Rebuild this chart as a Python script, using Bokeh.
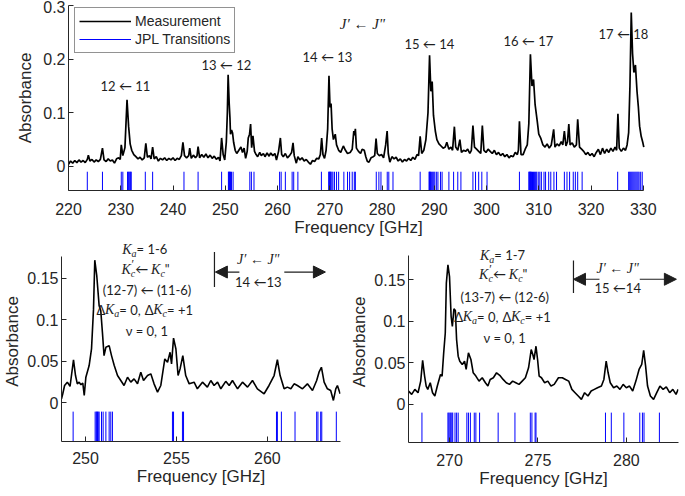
from bokeh.plotting import figure
from bokeh.layouts import column, row
from bokeh.models import Label, Arrow, NormalHead, FixedTicker, Legend, LegendItem, NumeralTickFormatter, Range1d
from bokeh.embed import file_html
from bokeh.resources import INLINE
from bokeh.core.properties import value

# ---------------- data ----------------
TOP_FREQ = [220.0, 220.4, 220.8, 221.2, 221.6, 222.0, 222.4, 222.8, 223.2, 223.6, 223.8, 224.1, 224.5, 224.9, 225.3,
            225.7, 226.1, 226.5, 226.8, 227.2, 227.6, 228.0, 228.4, 228.8, 229.2, 229.6, 229.9, 230.1, 230.4, 230.8,
            231.2, 231.5, 231.8, 232.1, 232.5, 232.9, 233.3, 233.7, 234.1, 234.5, 234.8, 235.1, 235.5, 235.8, 236.1,
            236.4, 236.8, 237.2, 237.6, 238.0, 238.4, 238.8, 239.2, 239.6, 240.0, 240.4, 240.8, 241.2, 241.6, 241.9,
            242.2, 242.6, 243.0, 243.2, 243.5, 243.9, 244.3, 244.6, 244.8, 245.1, 245.5, 245.9, 246.3, 246.7, 247.1,
            247.5, 247.9, 248.3, 248.7, 249.0, 249.3, 249.6, 249.9, 250.2, 250.4, 250.55, 250.75, 250.9, 251.0, 251.2,
            251.4, 251.6, 251.9, 252.2, 252.6, 253.0, 253.3, 253.6, 253.9, 254.2, 254.4, 254.65, 254.85, 255.05, 255.3,
            255.6, 255.9, 256.2, 256.6, 256.9, 257.3, 257.6, 258.0, 258.4, 258.7, 259.1, 259.5, 259.8, 260.2, 260.55,
            260.8, 261.1, 261.5, 261.9, 262.3, 262.7, 262.97, 263.2, 263.6, 263.9, 264.3, 264.7, 265.1, 265.5, 265.9,
            266.3, 266.7, 267.1, 267.5, 267.9, 268.2, 268.45, 268.7, 269.0, 269.3, 269.6, 269.85, 270.05, 270.25, 270.45,
            270.7, 271.05, 271.3, 271.7, 272.1, 272.6, 273.0, 273.4, 273.9, 274.3, 274.6, 274.75, 274.9, 275.1, 275.5,
            275.9, 276.2, 276.6, 276.9, 277.2, 277.5, 277.9, 278.3, 278.6, 278.86, 279.1, 279.5, 279.9, 280.3, 280.7,
            280.98, 281.2, 281.5, 281.9, 282.3, 282.7, 283.1, 283.5, 283.9, 284.3, 284.7, 285.1, 285.5, 285.9, 286.3,
            286.7, 287.0, 287.3, 287.6, 288.0, 288.4, 288.8, 289.1, 289.35, 289.6, 289.85, 290.2, 290.5, 290.9, 291.3,
            291.7, 292.1, 292.4, 292.8, 293.2, 293.5, 293.85, 294.1, 294.5, 294.9, 295.2, 295.6, 296.0, 296.4, 296.8,
            297.1, 297.4, 297.7, 298.1, 298.5, 298.9, 299.2, 299.5, 299.9, 300.3, 300.7, 301.1, 301.5, 301.9, 302.3,
            302.7, 303.1, 303.5, 303.9, 304.3, 304.7, 305.1, 305.5, 305.9, 306.1, 306.3, 306.6, 307.0, 307.4, 307.8,
            308.1, 308.4, 308.7, 309.0, 309.3, 309.7, 310.0, 310.4, 310.8, 311.2, 311.6, 312.0, 312.4, 312.85, 313.1,
            313.5, 313.9, 314.3, 314.6, 314.9, 315.2, 315.5, 315.75, 316.0, 316.4, 316.8, 317.2, 317.45, 317.8, 318.2,
            318.6, 319.0, 319.4, 319.8, 320.2, 320.6, 321.0, 321.4, 321.8, 322.2, 322.6, 323.0, 323.4, 323.8, 324.2,
            324.6, 324.9, 325.15, 325.4, 325.8, 326.2, 326.6, 326.9, 327.2, 327.45, 327.7, 327.95, 328.2, 328.5, 328.8,
            329.05, 329.3, 329.6, 329.9, 330.1]
TOP_ABS = [0.004, 0.010, 0.006, 0.011, 0.007, 0.012, 0.008, 0.011, 0.007, 0.013, 0.021, 0.010, 0.013, 0.008, 0.012,
           0.009, 0.013, 0.034, 0.012, 0.009, 0.014, 0.010, 0.012, 0.006, 0.014, 0.016, 0.013, 0.040, 0.020, 0.035,
           0.124, 0.075, 0.042, 0.030, 0.022, 0.018, 0.014, 0.017, 0.012, 0.016, 0.043, 0.017, 0.020, 0.014, 0.036,
           0.014, 0.018, 0.010, 0.015, 0.012, 0.016, 0.011, 0.015, 0.012, 0.016, 0.011, 0.015, 0.013, 0.020, 0.045,
           0.020, 0.016, 0.020, 0.034, 0.015, 0.021, 0.016, 0.020, 0.037, 0.016, 0.022, 0.017, 0.023, 0.016, 0.021,
           0.015, 0.019, 0.013, 0.017, 0.010, 0.053, 0.022, 0.012, 0.045, 0.100, 0.171, 0.118, 0.090, 0.060, 0.068,
           0.062, 0.045, 0.030, 0.024, 0.030, 0.036, 0.026, 0.034, 0.015, 0.028, 0.053, 0.060, 0.079, 0.035, 0.057,
           0.028, 0.022, 0.018, 0.026, 0.020, 0.024, 0.018, 0.025, 0.019, 0.025, 0.020, 0.024, 0.012, 0.028, 0.053,
           0.022, 0.018, 0.024, 0.016, 0.020, 0.026, 0.044, 0.020, 0.006, 0.018, 0.012, 0.016, 0.010, 0.013, 0.008,
           0.004, 0.011, 0.009, 0.015, 0.014, 0.022, 0.053, 0.022, 0.015, 0.030, 0.070, 0.169, 0.110, 0.117, 0.070,
           0.050, 0.060, 0.040, 0.030, 0.026, 0.038, 0.030, 0.024, 0.026, 0.032, 0.066, 0.058, 0.070, 0.034, 0.028,
           0.024, 0.032, 0.030, 0.018, 0.009, 0.008, 0.016, 0.018, 0.020, 0.052, 0.024, 0.020, 0.022, 0.016, 0.040,
           0.066, 0.024, 0.008, 0.018, 0.014, 0.017, 0.010, 0.014, 0.008, 0.013, 0.010, 0.015, 0.011, 0.017, 0.013,
           0.022, 0.020, 0.056, 0.024, 0.030, 0.050, 0.100, 0.207, 0.140, 0.158, 0.095, 0.066, 0.050, 0.042, 0.038,
           0.034, 0.036, 0.045, 0.032, 0.036, 0.030, 0.074, 0.036, 0.030, 0.050, 0.026, 0.030, 0.028, 0.032, 0.024,
           0.030, 0.076, 0.036, 0.032, 0.028, 0.024, 0.076, 0.030, 0.026, 0.032, 0.028, 0.024, 0.030, 0.022, 0.026,
           0.020, 0.024, 0.018, 0.022, 0.016, 0.020, 0.018, 0.026, 0.022, 0.030, 0.084, 0.022, 0.022, 0.032, 0.040,
           0.080, 0.209, 0.150, 0.162, 0.115, 0.085, 0.060, 0.052, 0.040, 0.036, 0.042, 0.034, 0.040, 0.069, 0.036,
           0.042, 0.038, 0.046, 0.040, 0.066, 0.038, 0.046, 0.079, 0.040, 0.044, 0.036, 0.040, 0.088, 0.036, 0.032,
           0.028, 0.022, 0.026, 0.020, 0.024, 0.018, 0.026, 0.032, 0.022, 0.034, 0.024, 0.032, 0.026, 0.034, 0.028,
           0.036, 0.030, 0.098, 0.034, 0.028, 0.034, 0.030, 0.040, 0.063, 0.150, 0.287, 0.210, 0.175, 0.189, 0.140,
           0.112, 0.075, 0.056, 0.045, 0.036]

TOP_TRANS = [223.6, 226.5, 230.1, 230.4, 231.3, 231.45, 231.6, 231.75, 231.9, 232.0, 234.7, 236.1, 242.1, 244.8,
             249.3, 250.6, 250.7, 250.8, 250.9, 251.0, 251.2, 251.5, 254.7, 255.0, 255.5, 260.4, 260.7, 261.5, 262.8,
             263.1, 263.9, 268.4, 269.8, 269.9, 270.0, 270.1, 270.2, 270.4, 270.6, 270.9, 271.3, 271.7, 272.7, 273.4,
             273.8, 274.3, 274.7, 274.9, 278.9, 279.4, 279.8, 281.0, 281.3, 282.1, 287.3, 289.0, 289.1, 289.2, 289.3,
             289.5, 289.7, 289.9, 290.1, 290.4, 290.7, 291.2, 291.5, 292.8, 293.7, 294.5, 295.1, 297.4, 297.9, 298.5,
             299.1, 300.1, 306.3, 308.1, 308.2, 308.3, 308.4, 308.5, 308.6, 308.8, 309.0, 309.2, 309.4, 309.6, 309.9,
             310.2, 310.5, 311.0, 311.3, 311.9, 312.3, 312.9, 313.4, 314.9, 315.4, 315.9, 316.6, 317.0, 317.45, 318.3,
             325.1, 327.2, 327.4, 327.6, 327.8, 328.0, 328.2, 328.4, 328.6, 328.8, 329.0, 329.2, 329.5, 329.8]

BL_FREQ = [248.68, 248.75, 248.85, 249.0, 249.15, 249.34, 249.45, 249.55, 249.65, 249.75, 249.85, 249.93, 250.02,
           250.2, 250.33, 250.44, 250.51, 250.62, 250.75, 250.84, 250.93, 251.02, 251.12, 251.3, 251.43, 251.58,
           251.76, 251.94, 252.12, 252.31, 252.49, 252.67, 252.86, 253.04, 253.19, 253.41, 253.59, 253.77, 253.96,
           254.14, 254.36, 254.51, 254.65, 254.73, 254.84, 254.97, 255.09, 255.2, 255.35, 255.51, 255.7, 255.97,
           256.15, 256.43, 256.7, 256.89, 257.07, 257.26, 257.44, 257.71, 257.9, 258.08, 258.36, 258.63, 258.91,
           259.18, 259.45, 259.82, 260.09, 260.37, 260.55, 260.7, 260.92, 261.1, 261.29, 261.47, 261.65, 261.93,
           262.2, 262.48, 262.71, 262.84, 262.97, 263.12, 263.3, 263.48, 263.63, 263.76, 263.85, 264.0]
BL_ABS = [0.005, 0.011, 0.021, 0.025, 0.020, 0.052, 0.033, 0.023, 0.025, 0.022, 0.024, 0.009, 0.031,
          0.045, 0.065, 0.113, 0.172, 0.153, 0.117, 0.111, 0.085, 0.057, 0.067, 0.069, 0.057, 0.045,
          0.033, 0.027, 0.021, 0.031, 0.025, 0.029, 0.023, 0.037, 0.027, 0.033, 0.035, 0.023, 0.013,
          0.021, 0.053, 0.049, 0.061, 0.047, 0.078, 0.065, 0.033, 0.041, 0.057, 0.033, 0.023, 0.025,
          0.017, 0.025, 0.019, 0.027, 0.021, 0.025, 0.017, 0.026, 0.021, 0.027, 0.017, 0.025, 0.019,
          0.027, 0.017, 0.011, 0.021, 0.033, 0.052, 0.033, 0.017, 0.019, 0.017, 0.023, 0.021, 0.017,
          0.023, 0.015, 0.027, 0.037, 0.043, 0.025, 0.017, 0.015, 0.003, 0.017, 0.021, 0.011]
BL_TRANS = [249.32, 250.53, 250.59, 250.62, 250.66, 250.70, 250.75, 250.88, 250.97, 251.12, 251.3, 251.39, 251.48,
            254.78, 254.84, 255.33, 255.39, 260.5, 260.55, 260.77, 261.52, 262.71, 262.78, 262.93, 262.99, 263.79]

BR_FREQ = [267.68, 267.86, 268.04, 268.22, 268.37, 268.48, 268.59, 268.68, 268.77, 268.91, 269.04, 269.17, 269.31,
           269.49, 269.58, 269.67, 269.76, 269.82, 269.91, 270.0, 270.09, 270.16, 270.25, 270.33, 270.4, 270.49,
           270.58, 270.72, 270.85, 270.94, 271.07, 271.21, 271.34, 271.49, 271.67, 271.85, 272.03, 272.17, 272.3,
           272.48, 272.66, 272.84, 273.03, 273.21, 273.39, 273.57, 273.75, 273.93, 274.11, 274.29, 274.47, 274.62,
           274.71, 274.78, 274.89, 274.98, 275.07, 275.2, 275.38, 275.56, 275.74, 275.92, 276.16, 276.38, 276.56,
           276.74, 276.92, 277.1, 277.28, 277.46, 277.64, 277.83, 278.01, 278.19, 278.37, 278.59, 278.73, 278.86,
           278.97, 279.09, 279.28, 279.46, 279.64, 279.82, 280.0, 280.18, 280.36, 280.54, 280.72, 280.87, 280.98,
           281.09, 281.2, 281.36, 281.54, 281.72, 281.9, 282.08, 282.26, 282.45, 282.63, 282.81, 282.93]
BR_ABS = [0.016, 0.012, 0.018, 0.014, 0.028, 0.053, 0.034, 0.022, 0.018, 0.026, 0.014, 0.010, 0.022,
          0.036, 0.034, 0.062, 0.086, 0.146, 0.168, 0.154, 0.106, 0.094, 0.115, 0.113, 0.078, 0.058,
          0.052, 0.048, 0.052, 0.042, 0.062, 0.054, 0.038, 0.034, 0.028, 0.032, 0.026, 0.022, 0.030,
          0.032, 0.038, 0.035, 0.030, 0.026, 0.024, 0.028, 0.026, 0.024, 0.028, 0.032, 0.044, 0.066,
          0.060, 0.054, 0.070, 0.054, 0.034, 0.032, 0.026, 0.028, 0.022, 0.024, 0.032, 0.032, 0.030,
          0.028, 0.018, 0.014, 0.010, 0.006, 0.014, 0.010, 0.016, 0.018, 0.020, 0.022, 0.030, 0.052,
          0.038, 0.026, 0.020, 0.022, 0.018, 0.024, 0.020, 0.022, 0.016, 0.028, 0.042, 0.048, 0.065,
          0.046, 0.022, 0.010, 0.006, 0.014, 0.022, 0.018, 0.021, 0.014, 0.018, 0.012, 0.018]
BR_TRANS = [268.44, 269.91, 269.96, 270.02, 270.07, 270.13, 270.18, 270.31, 270.4, 270.49, 270.98, 271.07, 271.18,
            271.4, 271.49, 271.7, 272.75, 273.7, 274.57, 274.66, 274.84, 274.89, 278.82, 279.15, 279.86, 280.76,
            280.91, 281.0, 281.87]

TOP_XTICKS = [220, 230, 240, 250, 260, 270, 280, 290, 300, 310, 320, 330]
TOP_YTICKS = [0, 0.1, 0.2, 0.3]
TOP_YLABELS = ["0", "0.1", "0.2", "0.3"]
BL_XTICKS = [250, 255, 260]
BR_XTICKS = [270, 275, 280]
BOT_YTICKS = [0, 0.05, 0.1, 0.15]
BOT_YLABELS = ["0", "0.05", "0.1", "0.15"]

TOP_PEAK_TEXT = ["12 \u2190 11", "13 \u2190 12", "14 \u2190 13", "15 \u2190 14", "16 \u2190 17", "17 \u2190 18"]

# ---------------- styling helpers ----------------
AX = "#262626"
TXT = "#1e1e1e"
LATO_W = {' ': 0.193, '=': 0.58, '-': 0.35, '(': 0.29, ')': 0.29, ',': 0.21, '+': 0.58, '\u0394': 0.66,
          '\u03bd': 0.52, '"': 0.37, '\u2190': 0.84}
SERIF_W = {'K': 0.667, 'J': 0.444, 'a': 0.5, 'c': 0.444, '\u2032': 0.28}


def width_of(s, kind, size):
    tbl = LATO_W if kind == "n" else SERIF_W
    return sum(tbl.get(ch, 0.58) for ch in s) * size


def style(p, xticks, yticks, ylabels, xbounds, ybounds, xstand, ylabstand):
    p.xaxis.ticker = FixedTicker(ticks=xticks)
    p.yaxis.ticker = FixedTicker(ticks=yticks)
    p.yaxis.formatter = NumeralTickFormatter(format="0.[00]")
    p.yaxis.major_label_overrides = {t: l for t, l in zip(yticks, ylabels)}
    p.xaxis.bounds = xbounds
    p.yaxis.bounds = ybounds
    for ax in (p.xaxis, p.yaxis):
        ax.axis_line_color = AX
        ax.axis_line_width = 1
        ax.major_tick_line_color = AX
        ax.major_tick_in = 5
        ax.major_tick_out = 0
        ax.minor_tick_line_color = None
        ax.major_label_text_font = "Liberation Sans"
        ax.major_label_text_font_size = "16px"
        ax.major_label_text_color = AX
        ax.axis_label_text_font = "Liberation Sans"
        ax.axis_label_text_font_size = "17px"
        ax.axis_label_text_font_style = "normal"
        ax.axis_label_text_color = AX
    p.xaxis.major_label_standoff = xstand
    p.yaxis.major_label_standoff = 3
    p.xaxis.axis_label_standoff = 0
    p.yaxis.axis_label_standoff = ylabstand
    p.xgrid.visible = False
    p.ygrid.visible = False
    p.outline_line_color = None
    p.background_fill_color = "white"
    p.border_fill_color = "white"


def make_fig(fw, fh, l, r, t, b, xr, yr):
    p = figure(frame_width=fw, frame_height=fh, min_border_left=l, min_border_right=r, min_border_top=t,
               min_border_bottom=b, x_range=Range1d(*xr), y_range=Range1d(*yr),
               output_backend="svg", toolbar_location=None)
    p.xaxis.axis_label = "Frequency [GHz]"
    p.yaxis.axis_label = "Absorbance"
    return p


# pieces: (text, kind) kind: n normal, i italic, sub subscript, sup prime superscript (no advance)
def rich(p, x, y, pieces):
    sizes = {"n": 13, "i": 14, "sub": 10, "sup": 12}
    total = 0
    for txt, kind in pieces:
        if kind != "sup":
            total += width_of(txt, kind, sizes[kind])
    cur = -total / 2
    for txt, kind in pieces:
        font = "Lato" if kind == "n" else "Liberation Serif"
        fstyle = "normal" if kind == "n" else "italic"
        dy = {"n": 0, "i": 0, "sub": -4, "sup": 5}[kind]
        p.add_layout(Label(x=x, y=y, x_offset=cur, y_offset=dy, text=txt, text_font=font,
                           text_font_size="%dpx" % sizes[kind], text_font_style=fstyle,
                           text_baseline="middle", text_align="left", text_color=TXT))
        if kind != "sup":
            cur += width_of(txt, kind, sizes[kind])


def arrow(p, x0, y0, x1, y1, head=True):
    p.add_layout(Arrow(x_start=x0, y_start=y0, x_end=x1, y_end=y1, line_color=TXT, line_width=1.2,
                       end=NormalHead(size=12, fill_color=TXT, line_color=TXT) if head else None))


def annotate_bottom(p, cx, ys, ka_text, paren_text, vx, vy0, vy1, ay, ax_l0, ax_l1, ax_r0, ax_r1, jx, jy1, jy2, jtext):
    rich(p, cx, ys[0], [("K", "i"), ("a", "sub"), (" = " + ka_text, "n")])
    rich(p, cx, ys[1], [("K", "i"), ("\u2032", "sup"), ("c", "sub"), (" \u2190 ", "n"), ("K", "i"), ("c", "sub"), ('"', "n")])
    rich(p, cx, ys[2], [(paren_text, "n")])
    rich(p, cx, ys[3], [("\u0394", "n"), ("K", "i"), ("a", "sub"), (" = 0, ", "n"), ("\u0394", "n"), ("K", "i"),
                        ("c", "sub"), (" = +1", "n")])
    rich(p, cx, ys[4], [("\u03bd = 0, 1", "n")])
    arrow(p, vx, vy0, vx, vy1, head=False)
    arrow(p, ax_l0, ay, ax_l1, ay)
    arrow(p, ax_r0, ay, ax_r1, ay)
    p.add_layout(Label(x=jx, y=jy1, text="J\u2032 \u2190 J\"", text_font="Liberation Serif", text_font_style="italic",
                       text_font_size="14px", text_align="center", text_baseline="middle", text_color=TXT))
    p.add_layout(Label(x=jx, y=jy2, text=jtext, text_font="Lato", text_font_size="13px",
                       text_align="center", text_baseline="middle", text_color=TXT))


# ---------------- top figure ----------------
TOP_Y0 = -0.045
pt = make_fig(580, 185, 68, 29, 5, 49, (220, 331), (TOP_Y0, 0.3))
style(pt, TOP_XTICKS, TOP_YTICKS, TOP_YLABELS, (220, 330), (TOP_Y0, 0.3), 12, 5)

ann_x = [230.9, 250.2, 269.55, 289.06, 308.0, 326.2]
ann_y = [0.149, 0.189, 0.204, 0.2275, 0.233, 0.246]
pt.text(x=ann_x, y=ann_y, text=TOP_PEAK_TEXT, text_font=value("Lato"), text_font_size="13px",
        text_align="center", text_baseline="middle", text_color=TXT)
pt.text(x=[276.25], y=[0.2655], text=["J\u2032 \u2190 J\""], text_font=value("Liberation Serif"),
        text_font_style="italic", text_font_size="15px", text_align="center", text_baseline="middle", text_color=TXT)

meas = pt.line(TOP_FREQ, TOP_ABS, line_color="black", line_width=1.7)
trans = pt.segment(x0=TOP_TRANS, y0=-0.01, x1=TOP_TRANS, y1=TOP_Y0, line_color="#0000ff", line_width=1)

legend = Legend(items=[LegendItem(label="Measurement", renderers=[meas]),
                       LegendItem(label="JPL Transitions", renderers=[trans])],
                location=(6, 137), label_text_font="Liberation Sans", label_text_font_size="14px",
                label_text_color=AX, glyph_width=52, glyph_height=18, label_height=18, label_standoff=4,
                padding=4, spacing=0, margin=0, border_line_color=AX, border_line_width=1,
                background_fill_color="white", background_fill_alpha=1)
pt.add_layout(legend)

# ---------------- bottom-left figure ----------------
BL_Y0 = -0.0465
pbl = make_fig(279, 200, 59, 7, 2, 47, (248.68, 264.02), (BL_Y0, 0.1945))
style(pbl, BL_XTICKS, BOT_YTICKS, BOT_YLABELS, (248.68, 264.02), (BL_Y0, 0.177), 10, 2)
pbl.line(BL_FREQ, BL_ABS, line_color="black", line_width=1.6)
pbl.segment(x0=BL_TRANS, y0=-0.0105, x1=BL_TRANS, y1=BL_Y0, line_color="#0000ff", line_width=1)
annotate_bottom(pbl, 253.3, [0.1853, 0.1613, 0.1361, 0.1121, 0.0869], "1-6", "(12-7) \u2190 (11-6)",
                257.09, 0.1817, 0.1397, 0.1577, 258.46, 257.14, 260.93, 263.19, 259.5, 0.1733, 0.1457, "14 \u219013")

# ---------------- bottom-right figure ----------------
BR_Y0 = -0.046
pbr = make_fig(270, 201, 58, 2, 0, 48, (267.68, 282.95), (BR_Y0, 0.1962))
style(pbr, BR_XTICKS, BOT_YTICKS, BOT_YLABELS, (267.68, 282.95), (BR_Y0, 0.179), 11, 2)
pbr.line(BR_FREQ, BR_ABS, line_color="black", line_width=1.6)
pbr.segment(x0=BR_TRANS, y0=-0.01, x1=BR_TRANS, y1=BR_Y0, line_color="#0000ff", line_width=1)
annotate_bottom(pbr, 273.04, [0.1794, 0.1567, 0.1292, 0.1053, 0.0801], "1-7", "(13-7) \u2190 (12-6)",
                277.01, 0.1734, 0.134, 0.1507, 278.48, 277.01, 280.76, 282.83, 279.51, 0.1639, 0.14, "15 \u219014")

layout = column(pt, row(pbl, pbr))
open("out.html", "w").write(file_html(layout, INLINE))
